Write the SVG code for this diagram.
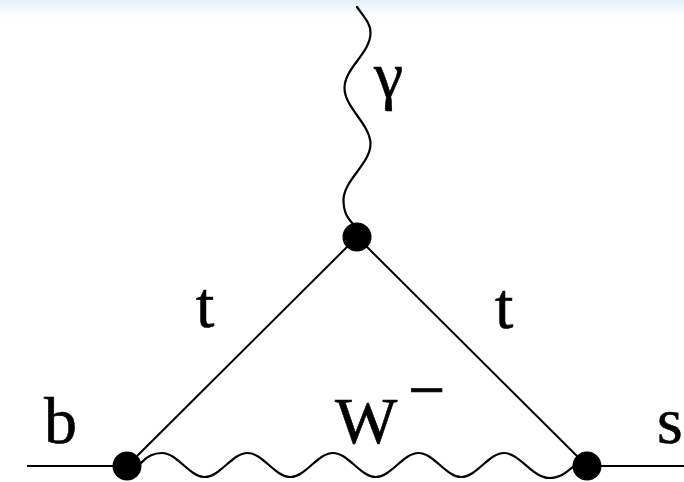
<svg xmlns="http://www.w3.org/2000/svg" width="684" height="482" viewBox="0 0 684 482">
  <defs>
    <linearGradient id="topfade" x1="0" y1="0" x2="0" y2="1">
      <stop offset="0" stop-color="#e2f1fb"/>
      <stop offset="1" stop-color="#ffffff"/>
    </linearGradient>
    <style>
      .line { fill: none; stroke: #000; stroke-width: 2; }
      .wave { fill: none; stroke: #000; stroke-width: 2.2; stroke-linecap: round; }
      .vertex { fill: #000; }
      .lbl { font-family: "Liberation Serif", "Times New Roman", serif; font-size: 66px; fill: #000; stroke: #000; stroke-width: 0.6px; }
    </style>
  </defs>
  <rect x="0" y="0" width="684" height="482" fill="#ffffff"/>
  <rect x="0" y="0" width="684" height="18" fill="url(#topfade)"/>

  <g id="connectors">
    <line class="line" x1="27" y1="466" x2="127" y2="466"/>
    <line class="line" x1="587" y1="466" x2="684" y2="466"/>
    <line class="line" x1="357" y1="237" x2="127" y2="466"/>
    <line class="line" x1="357" y1="237" x2="587" y2="466"/>
    <path id="photon" class="wave" d="M357,7 C364,17 371,24 370.5,33 C370.5,52.8 344.5,68.2 344.5,88 C344.5,107.8 370.5,124.2 370.5,144 C370.5,163.8 343.5,180.2 343.5,200 C343.5,212 347,218 355,226"/>
    <path id="wboson" class="wave" d="M141,463 C147,456 153,453 162,453 C177.4,453 189.4,477 204.75,477 C220.1,477 232.1,453 247.5,453 C262.9,453 274.9,477 290.25,477 C305.6,477 317.6,453 333,453 C348.4,453 360.4,477 375.75,477 C391.1,477 403.1,453 418.5,453 C433.9,453 445.9,477 461.25,477 C476.6,477 488.6,453 504,453 C519.4,453 533,478 549,478 C560,478 566,473 575,465"/>
  </g>

  <g id="vertex-left"><circle class="vertex" cx="127" cy="466" r="14.5"/></g>
  <g id="vertex-top"><circle class="vertex" cx="357" cy="237" r="14.5"/></g>
  <g id="vertex-right"><circle class="vertex" cx="587" cy="466" r="14.5"/></g>

  <g id="label-gamma"><text class="lbl" x="374" y="97">γ</text></g>
  <g id="label-t-left"><text class="lbl" x="196" y="327">t</text></g>
  <g id="label-t-right"><text class="lbl" x="495" y="328">t</text></g>
  <g id="label-b"><text class="lbl" x="44" y="443">b</text></g>
  <g id="label-s"><text class="lbl" x="657" y="443">s</text></g>
  <g id="label-W"><text class="lbl" x="335" y="443">W<tspan x="408" y="412">−</tspan></text></g>
</svg>
